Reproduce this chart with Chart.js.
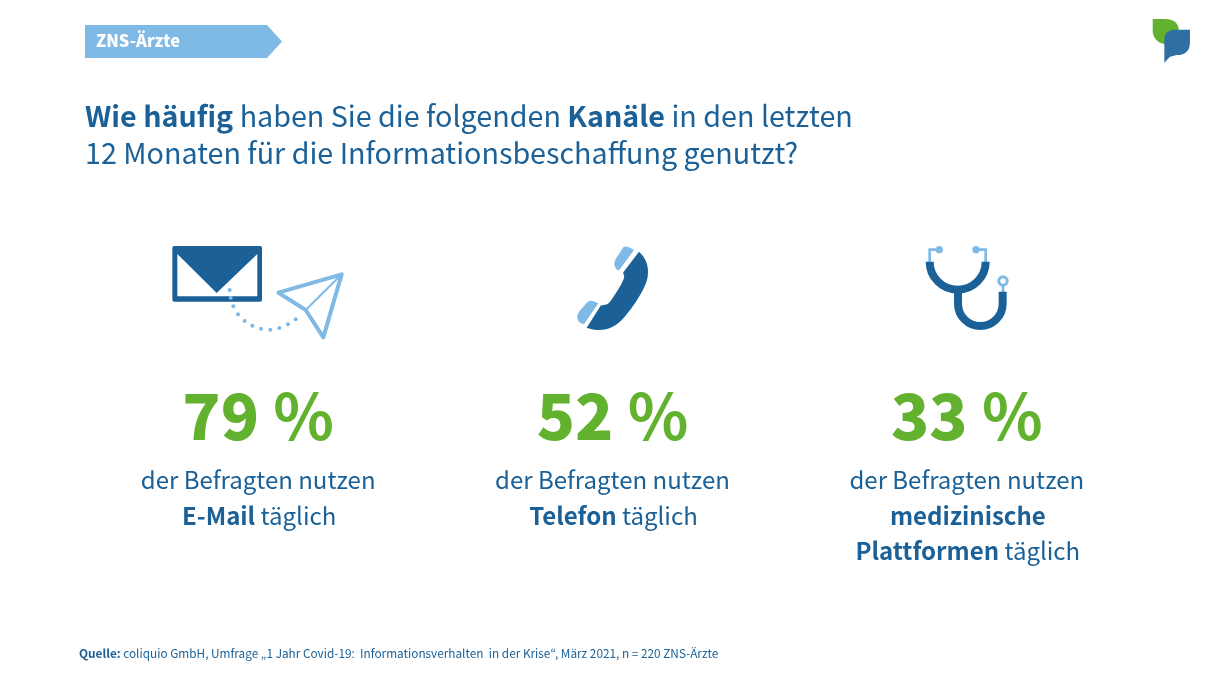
<!DOCTYPE html>
<html lang="de">
<head>
<meta charset="utf-8">
<title>ZNS-Ärzte</title>
<script src="https://cdn.jsdelivr.net/npm/chart.js@4"></script>
<style>
html, body { margin: 0; padding: 0; background: #fff; }
canvas { display: block; }
</style>
</head>
<body>
<canvas id="myChart" width="1210" height="680"></canvas>
<script>
// data
const channels = ['E-Mail', 'Telefon', 'medizinische Plattformen'];
const dailyUse = [79, 52, 33];
const tagText = 'ZNS-Ärzte';
const captionFirst = 'der Befragten nutzen';
// caption lines per channel, [text, bold]
const captionRest = [
    [[['E-Mail', true], [' täglich', false]]],
    [[['Telefon', true], [' täglich', false]]],
    [[['medizinische', true]], [['Plattformen', true], [' täglich', false]]]
];
const titleLines = [
    [['Wie häufig', true], [' haben Sie die folgenden ', false], ['Kanäle', true], [' in den letzten', false]],
    [['12 Monaten für die Informationsbeschaffung genutzt?', false]]
];
const sourceRuns = [
    ['Quelle:', true],
    [' coliquio GmbH, Umfrage „1 Jahr Covid-19:  Informationsverhalten  in der Krise“, März 2021, n = 220 ZNS-Ärzte', false]
];

const DARK = '#1b6197';
const LIGHT = '#7fb9e6';
const GREEN = '#62b22f';
const FONT = '"Noto Sans CJK KR", "Noto Sans", sans-serif';

function setFont(ctx, size, bold){
    const weight = bold === true ? 700 : (bold || 400);
    ctx.font = weight + ' ' + size + 'px ' + FONT;
}

function runsWidth(ctx, runs, size){
    let w = 0;
    runs.forEach(r => { setFont(ctx, size, r[1]); w += ctx.measureText(r[0]).width; });
    return w;
}

function drawRuns(ctx, runs, x, y, size, color, center){
    ctx.fillStyle = color;
    ctx.textAlign = 'left';
    ctx.textBaseline = 'alphabetic';
    if (center) x -= runsWidth(ctx, runs, size) / 2;
    runs.forEach(r => {
        setFont(ctx, size, r[1]);
        ctx.fillText(r[0], x, y);
        x += ctx.measureText(r[0]).width;
    });
}

// icons use a path in crop coordinates, scaled 1/3
function scaledPath(ctx, ox, oy, fn){
    ctx.save();
    ctx.translate(ox, oy);
    ctx.scale(1 / 3, 1 / 3);
    ctx.beginPath();
    fn(ctx);
    ctx.restore();
}

function drawMail(ctx, ox, oy){
    ctx.fillStyle = DARK;
    scaledPath(ctx, ox, oy, c => c.roundRect(37, 33, 269, 167, 6));
    ctx.fill();
    ctx.fillStyle = '#fff';
    scaledPath(ctx, ox, oy, c => {
        c.moveTo(52, 57); c.lineTo(170, 174); c.lineTo(292, 57);
        c.lineTo(292, 184); c.lineTo(52, 184); c.closePath();
    });
    ctx.fill();
    ctx.fillStyle = LIGHT;
    [[209,165],[212,188],[220,214],[234,238],[254,258],[277,272],[303,281],[331,284],[358,279],[384,268],[407,253]].forEach(p => {
        scaledPath(ctx, ox, oy, c => c.arc(p[0], p[1], 6, 0, Math.PI * 2));
        ctx.fill();
    });
    ctx.strokeStyle = LIGHT;
    ctx.lineJoin = 'round';
    ctx.lineWidth = 4;
    scaledPath(ctx, ox, oy, c => {
        c.moveTo(355, 173); c.lineTo(545, 118); c.lineTo(490, 307); c.lineTo(437, 225); c.closePath();
    });
    ctx.stroke();
    ctx.lineWidth = 2;
    scaledPath(ctx, ox, oy, c => { c.moveTo(437, 225); c.lineTo(545, 118); });
    ctx.stroke();
}

function drawPhone(ctx, ox, oy){
    ctx.fillStyle = DARK;
    scaledPath(ctx, ox, oy, c => {
        c.moveTo(237, 50);
        c.bezierCurveTo(258, 68, 268, 95, 263, 125);
        c.bezierCurveTo(258, 160, 220, 215, 190, 250);
        c.bezierCurveTo(165, 280, 125, 295, 80, 278);
        c.lineTo(122, 212);
        c.bezierCurveTo(130, 208, 140, 212, 150, 200);
        c.bezierCurveTo(165, 180, 182, 155, 192, 130);
        c.bezierCurveTo(195, 120, 188, 118, 190, 112);
        c.closePath();
    });
    ctx.fill();
    ctx.fillStyle = LIGHT;
    scaledPath(ctx, ox, oy, c => {
        c.moveTo(190, 37); c.quadraticCurveTo(198, 30, 222, 45); c.lineTo(178, 105);
        c.quadraticCurveTo(170, 108, 165, 95); c.quadraticCurveTo(160, 85, 167, 72); c.closePath();
    });
    ctx.fill();
    scaledPath(ctx, ox, oy, c => {
        c.moveTo(83, 200); c.quadraticCurveTo(95, 192, 115, 205); c.lineTo(72, 268);
        c.quadraticCurveTo(55, 265, 52, 250); c.quadraticCurveTo(50, 240, 57, 230); c.closePath();
    });
    ctx.fill();
}

function drawSteth(ctx, ox, oy){
    ctx.strokeStyle = LIGHT;
    ctx.fillStyle = LIGHT;
    ctx.lineWidth = 2.7;
    ctx.lineJoin = 'miter';
    scaledPath(ctx, ox, oy, c => { c.moveTo(59, 82); c.lineTo(59, 44); c.lineTo(88, 44); });
    ctx.stroke();
    scaledPath(ctx, ox, oy, c => { c.moveTo(227, 82); c.lineTo(227, 44); c.lineTo(198, 44); });
    ctx.stroke();
    scaledPath(ctx, ox, oy, c => { c.moveTo(279, 150); c.lineTo(279, 172); });
    ctx.stroke();
    scaledPath(ctx, ox, oy, c => c.arc(88, 44, 11, 0, Math.PI * 2));
    ctx.fill();
    scaledPath(ctx, ox, oy, c => c.arc(198, 44, 11, 0, Math.PI * 2));
    ctx.fill();
    ctx.lineWidth = 3;
    scaledPath(ctx, ox, oy, c => c.arc(279, 138, 12.5, 0, Math.PI * 2));
    ctx.stroke();
    ctx.strokeStyle = DARK;
    ctx.lineWidth = 8;
    ctx.lineCap = 'butt';
    scaledPath(ctx, ox, oy, c => c.arc(143, 80, 84, Math.PI, 0, true));
    ctx.stroke();
    scaledPath(ctx, ox, oy, c => {
        c.moveTo(144, 165); c.lineTo(144, 206); c.arc(211, 206, 67, Math.PI, 0, true); c.lineTo(278, 170);
    });
    ctx.stroke();
}

function drawLogo(ctx, ox, oy){
    ctx.fillStyle = GREEN;
    scaledPath(ctx, ox, oy, c => {
        c.moveTo(68, 42); c.lineTo(105, 42); c.quadraticCurveTo(145, 42, 147, 78);
        c.lineTo(105, 118); c.quadraticCurveTo(68, 110, 68, 75); c.closePath();
    });
    ctx.fill();
    ctx.fillStyle = '#2f6fa3';
    scaledPath(ctx, ox, oy, c => {
        c.moveTo(135, 74); c.lineTo(180, 74); c.lineTo(180, 110);
        c.quadraticCurveTo(180, 150, 140, 150); c.lineTo(120, 155); c.lineTo(103, 173);
        c.lineTo(103, 105); c.quadraticCurveTo(103, 74, 135, 74); c.closePath();
    });
    ctx.fill();
}

const infographic = {
    id: 'infographic',
    afterDraw(chart){
        const ctx = chart.ctx;
        const bars = chart.getDatasetMeta(0).data;
        ctx.save();

        // tag
        ctx.fillStyle = LIGHT;
        ctx.beginPath();
        ctx.moveTo(85, 25); ctx.lineTo(267, 25); ctx.lineTo(282, 41.5); ctx.lineTo(267, 58); ctx.lineTo(85, 58);
        ctx.closePath();
        ctx.fill();
        drawRuns(ctx, [[tagText, 900]], 96, 47, 16.5, '#fff', false);

        drawLogo(ctx, 1130, 5);

        drawRuns(ctx, titleLines[0], 85, 127, 28.7, DARK, false);
        drawRuns(ctx, titleLines[1], 85, 164, 28.7, DARK, false);

        drawMail(ctx, 160, 235);
        drawPhone(ctx, 560, 235);
        drawSteth(ctx, 910, 235);

        // values and captions follow the category scale
        bars.forEach((bar, i) => {
            const cx = bar.x;
            drawRuns(ctx, [[String(dailyUse[i]), 900], [' %', 700]], cx, 440, 63, GREEN, true);
            drawRuns(ctx, [[captionFirst, false]], cx, 488.5, 24, DARK, true);
            captionRest[i].forEach((line, n) => {
                drawRuns(ctx, line, cx + 1, 524.5 + n * 35, 24, DARK, true);
            });
        });

        drawRuns(ctx, sourceRuns, 79, 658, 11.8, DARK, false);
        ctx.restore();
    }
};

new Chart(document.getElementById('myChart').getContext('2d'), {
    type: 'bar',
    data: {
        labels: channels,
        datasets: [{ label: 'täglich (%)', data: dailyUse, backgroundColor: 'transparent' }]
    },
    options: {
        responsive: false,
        animation: false,
        layout: { padding: { left: 81, right: 66, top: 0, bottom: 0 } },
        scales: {
            x: { display: false },
            y: { display: false, min: 0, max: 100 }
        },
        plugins: { legend: { display: false }, tooltip: { enabled: false }, title: { display: false } }
    },
    plugins: [infographic]
});
</script>
</body>
</html>
